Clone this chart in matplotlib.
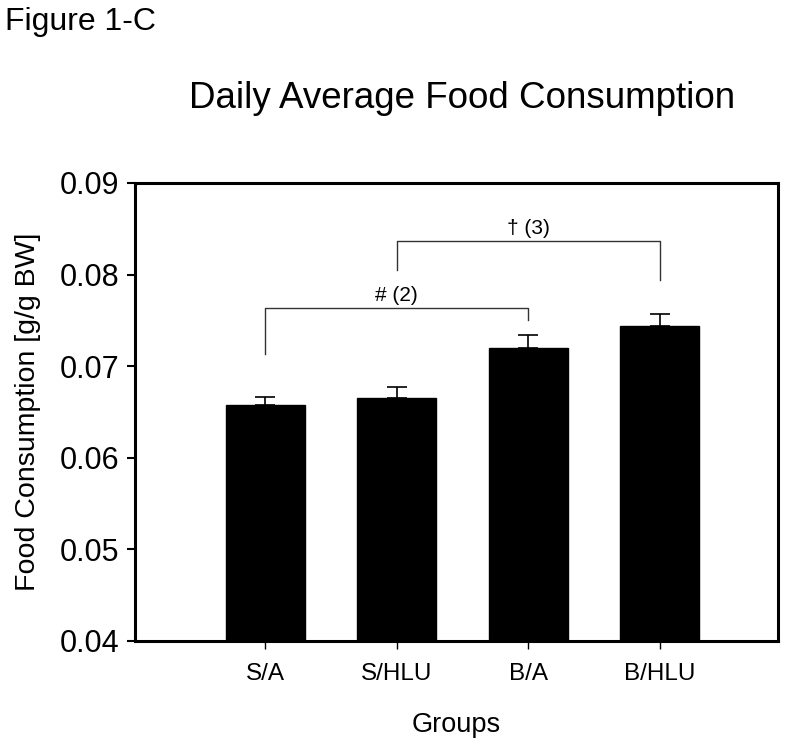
import matplotlib
matplotlib.use("Agg")
import matplotlib.pyplot as plt

plt.rcParams['font.family'] = ['Liberation Sans', 'DejaVu Sans']

groups = ["S/A", "S/HLU", "B/A", "B/HLU"]
means = [0.0658, 0.0665, 0.0720, 0.0744]
errors = [0.0008, 0.0012, 0.0014, 0.0013]
yticks = [0.04, 0.05, 0.06, 0.07, 0.08, 0.09]
ytick_labels = ["0.04", "0.05", "0.06", "0.07", "0.08", "0.09"]

# significance brackets: (left idx, right idx, bar height, left drop, right drop, label)
brackets = [
    (0, 2, 0.0764, 0.0713, 0.0750, "# (2)"),
    (1, 3, 0.0837, 0.0805, 0.0794, "\u2020 (3)"),
]

fig = plt.figure(figsize=(8, 7.46), dpi=100)
ax = fig.add_axes([0.16875, 0.1408, 0.80375, 0.6139])

x = list(range(len(groups)))
ax.bar(x, means, width=0.6, color="black", edgecolor="black", zorder=2)
ax.errorbar(x, means, yerr=[[0]*len(errors), errors], fmt="none", ecolor="black",
            elinewidth=1.2, capsize=7, capthick=1.2, zorder=3)

ax.set_xlim(-0.99, 3.9)
ax.set_ylim(0.04, 0.09)
ax.set_yticks(yticks)
ax.set_yticklabels(ytick_labels, fontsize=22)
ax.set_xticks(x)
ax.set_xticklabels(groups, fontsize=17.5)
ax.tick_params(axis="y", direction="out", length=6, width=1.5, pad=5)
ax.tick_params(axis="x", direction="out", length=6, width=1.0, pad=10)
for s in ax.spines.values():
    s.set_linewidth(2.2)

ax.set_ylabel("Food Consumption [g/g BW]", fontsize=20.5, labelpad=14)
ax.set_xlabel("Groups", fontsize=19.5, labelpad=19)

for li, ri, h, ld, rd, lab in brackets:
    ax.plot([x[li], x[li], x[ri], x[ri]], [ld, h, h, rd], color="#333333", lw=1.0, zorder=1)
    ax.text((x[li] + x[ri]) / 2, h + 0.0003, lab, ha="center", va="bottom", fontsize=15)

fig.text(462 / 800, 1 - 99 / 746, "Daily Average Food Consumption",
         ha="center", va="center", fontsize=26.5)
fig.text(0.006, 1 - 22 / 746, "Figure 1-C", ha="left", va="center", fontsize=23)

fig.savefig("out.png", dpi=100)
